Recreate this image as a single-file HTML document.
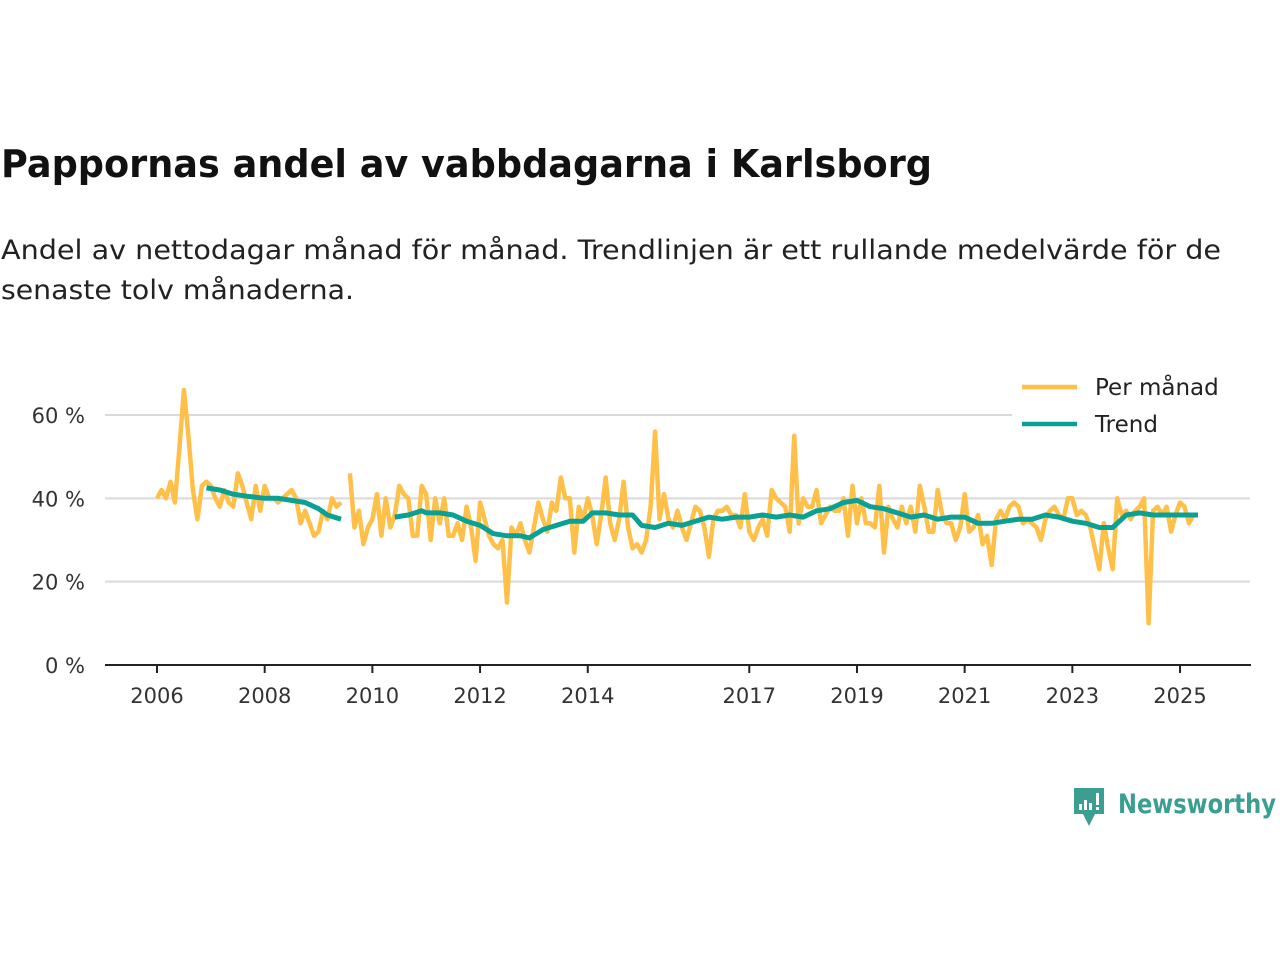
<!DOCTYPE html>
<html><head><meta charset="utf-8"><style>
html,body{margin:0;padding:0;background:#fff;}
svg{display:block;font-family:"DejaVu Sans","Liberation Sans",sans-serif;}
</style></head><body>
<svg id="chart" width="1280" height="960" viewBox="0 0 1280 960" xmlns="http://www.w3.org/2000/svg">
<text x="1" y="177" font-size="38" font-weight="bold" fill="#111" textLength="931" lengthAdjust="spacingAndGlyphs">Pappornas andel av vabbdagarna i Karlsborg</text>
<text x="1" y="259" font-size="27" fill="#222" textLength="1220" lengthAdjust="spacingAndGlyphs">Andel av nettodagar månad för månad. Trendlinjen är ett rullande medelvärde för de</text>
<text x="1" y="299" font-size="27" fill="#222" textLength="353" lengthAdjust="spacingAndGlyphs">senaste tolv månaderna.</text>
<g id="grid"></g>
<g id="yaxis"></g>
<g id="xaxis"></g>
<g id="series"></g>
<g>
<rect x="1012" y="364" width="238" height="78" fill="#fff"/>
<line x1="1022" y1="387" x2="1077" y2="387" stroke="#ffc04a" stroke-width="4.5"/>
<text x="1095" y="395" font-size="23" fill="#222">Per månad</text>
<line x1="1022" y1="424" x2="1077" y2="424" stroke="#0aa093" stroke-width="4.5"/>
<text x="1095" y="432" font-size="23" fill="#222">Trend</text>
</g>
<g>
<path d="M1074 788 h30 v26 h-9 l-6 12 l-6 -12 h-9 z" fill="#3a9e91"/>
<rect x="1079" y="804" width="3" height="6" fill="#fff"/><rect x="1084" y="800" width="3" height="10" fill="#fff"/><rect x="1089" y="803" width="3" height="7" fill="#fff"/><rect x="1096" y="793" width="3" height="12" fill="#fff"/><rect x="1096" y="807" width="3" height="3" fill="#fff"/>
<text x="1118" y="813" font-size="27" font-weight="bold" fill="#3a9e91" textLength="158" lengthAdjust="spacingAndGlyphs">Newsworthy</text>
</g>
</svg>
<script>
const yTicks = [0, 20, 40, 60];
const yTickLabels = ["0 %", "20 %", "40 %", "60 %"];
const xTickYears = [2006, 2008, 2010, 2012, 2014, 2017, 2019, 2021, 2023, 2025];
// monthly values from Jan 2006 (null = missing)
const perMonth = [
40,42,40,44,39,52,66,55,42,35,43,44,
43,40,38,42,39,38,46,43,39,35,43,37,
43,40,40,39,40,41,42,40,34,37,34,31,
32,37,35,40,38,39,null,46,33,37,29,33,
35,41,31,40,33,36,43,41,40,31,31,43,
41,30,40,34,40,31,31,34,30,38,33,25,
39,35,31,29,28,30,15,33,31,34,30,27,
33,39,35,32,39,37,45,40,40,27,38,35,
40,36,29,36,45,34,30,35,44,33,28,29,
27,30,38,56,35,41,35,33,37,33,30,34,
38,37,33,26,35,37,37,38,36,36,33,41,
32,30,33,35,31,42,40,39,38,32,55,34,
40,38,38,42,34,36,38,37,37,40,31,43,
34,40,34,34,33,43,27,38,35,33,38,34,
38,32,43,38,32,32,42,36,34,34,30,33,
41,32,33,36,29,31,24,35,37,35,38,39,
38,34,35,34,33,30,35,37,38,36,35,40,
40,36,37,36,33,28,23,34,28,23,40,36,
37,35,37,38,40,10,37,38,36,38,32,36,
39,38,34,36,36
];
// trend: months since Jan 2006 and values (two segments)
const trendMonthsA = [11,14,17,20,24,27,30,33,36,38,41];
const trendValuesA = [42.5,42,41,40.5,40,40,39.5,39,37.5,36,35];
const trendMonthsB = [53,56,59,60,63,66,69,72,75,78,81,83,86,89,92,95,97,100,103,106,108,111,114,117,120,123,126,129,132,135,138,141,144,147,150,153,156,159,162,165,168,171,174,177,180,183,186,189,192,195,198,201,204,207,210,213,216,219,222,225,228,232];
const trendValuesB = [35.5,36,37,36.5,36.5,36,34.5,33.5,31.5,31,31,30.5,32.5,33.5,34.5,34.5,36.5,36.5,36,36,33.5,33,34,33.5,34.5,35.5,35,35.5,35.5,36,35.5,36,35.5,37,37.5,39,39.5,38,37.5,36.5,35.5,36,35,35.5,35.5,34,34,34.5,35,35,36,35.5,34.5,34,33,33,36,36.5,36,36,36,36];

const NS = "http://www.w3.org/2000/svg";
const X0 = 157, PXM = 4.487, Y0 = 665, PXP = 4.167;
const xScale = m => X0 + m * PXM;
const yScale = v => Y0 - v * PXP;
function mk(tag, attrs, parent) {
  const e = document.createElementNS(NS, tag);
  for (const k in attrs) e.setAttribute(k, attrs[k]);
  parent.appendChild(e);
  return e;
}
const grid = document.getElementById('grid');
const yaxis = document.getElementById('yaxis');
yTicks.forEach((t, i) => {
  if (t > 0) {
    const l = mk('line', {x1: 105, x2: 1250, y1: yScale(t), y2: yScale(t), stroke: '#d9d9d9', 'stroke-width': 2}, grid);
    
    
  }
  const tx = mk('text', {x: 85, y: yScale(t) + 8, 'font-size': 21, fill: '#333', 'text-anchor': 'end'}, yaxis);
  
  
  tx.textContent = yTickLabels[i];
});
const xaxis = document.getElementById('xaxis');
const ax = mk('line', {x1: 105, x2: 1251, y1: Y0, y2: Y0, stroke: '#222', 'stroke-width': 2}, xaxis);


xTickYears.forEach(yr => {
  const x = xScale((yr - 2006) * 12);
  const tk = mk('line', {x1: x, x2: x, y1: Y0, y2: Y0 + 8, stroke: '#222', 'stroke-width': 2}, xaxis);
  
  
  const tx = mk('text', {x: x, y: Y0 + 38, 'font-size': 21, fill: '#333', 'text-anchor': 'middle'}, xaxis);
  
  
  tx.textContent = yr;
});
const series = document.getElementById('series');
let d = '', pen = false;
perMonth.forEach((v, m) => {
  if (v === null) { pen = false; return; }
  d += (pen ? 'L' : 'M') + xScale(m).toFixed(1) + ' ' + yScale(v).toFixed(1) + ' ';
  pen = true;
});
const pm = mk('path', {d: d, fill: 'none', stroke: '#ffc04a', 'stroke-width': 4.5, 'stroke-linejoin': 'round'}, series);


function trendPath(ms, vs) {
  return ms.map((m, i) => (i ? 'L' : 'M') + xScale(m).toFixed(1) + ' ' + yScale(vs[i]).toFixed(1)).join(' ');
}
const tA = mk('path', {d: trendPath(trendMonthsA, trendValuesA), fill: 'none', stroke: '#0aa093', 'stroke-width': 5, 'stroke-linejoin': 'round'}, series);


const tB = mk('path', {d: trendPath(trendMonthsB, trendValuesB), fill: 'none', stroke: '#0aa093', 'stroke-width': 5, 'stroke-linejoin': 'round'}, series);


</script>
</body></html>
